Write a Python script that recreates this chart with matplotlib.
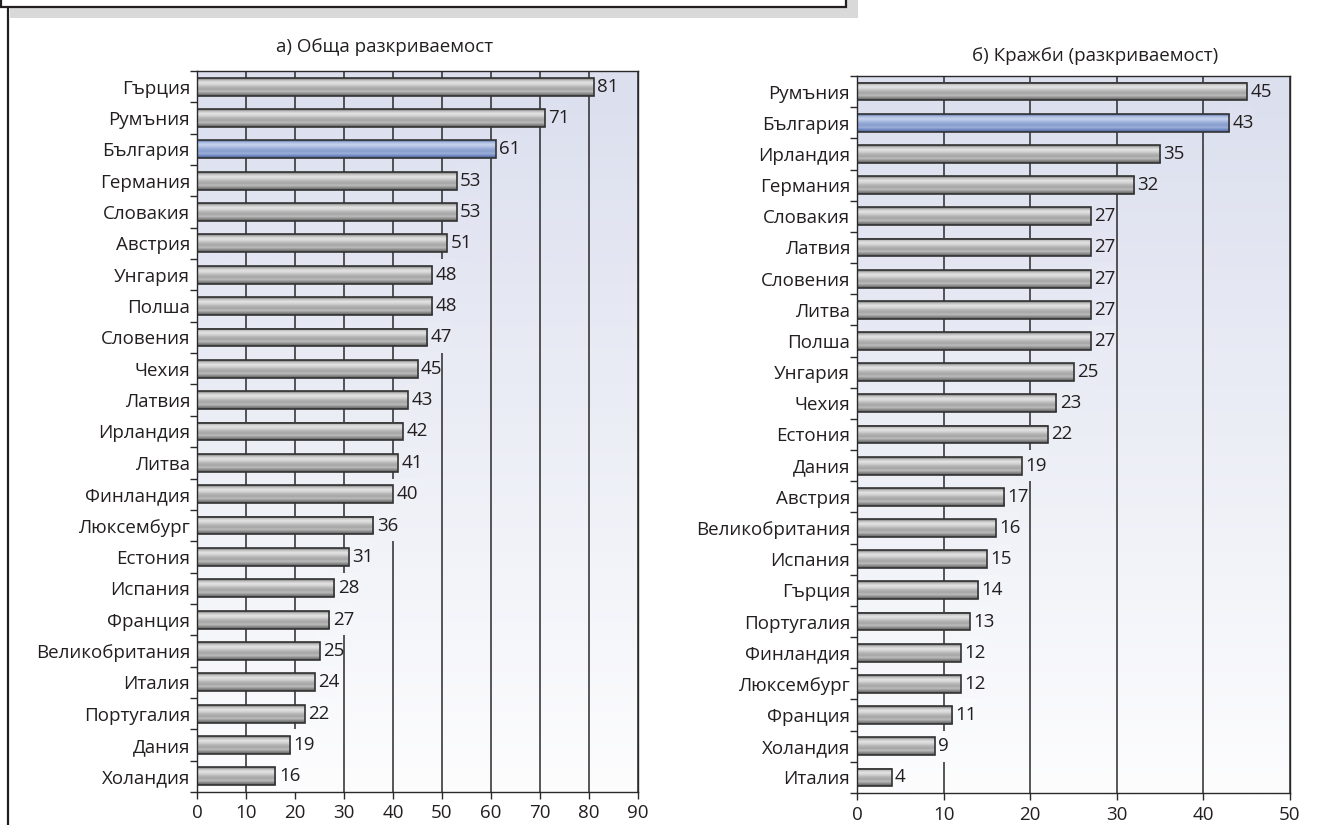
import numpy as np
import matplotlib
matplotlib.use('Agg')
import matplotlib.pyplot as plt
from matplotlib.patches import Rectangle
from matplotlib.colors import to_rgb

plt.rcParams['font.family'] = ['Open Sans', 'DejaVu Sans']

# ---------------- data ----------------
left_title = 'а) Обща разкриваемост'
left_countries = ['Гърция', 'Румъния', 'България', 'Германия', 'Словакия', 'Австрия',
                  'Унгария', 'Полша', 'Словения', 'Чехия', 'Латвия', 'Ирландия', 'Литва',
                  'Финландия', 'Люксембург', 'Естония', 'Испания', 'Франция',
                  'Великобритания', 'Италия', 'Португалия', 'Дания', 'Холандия']
left_values = [81, 71, 61, 53, 53, 51, 48, 48, 47, 45, 43, 42, 41, 40, 36, 31, 28, 27,
               25, 24, 22, 19, 16]
left_ticks = [0, 10, 20, 30, 40, 50, 60, 70, 80, 90]

right_title = 'б) Кражби (разкриваемост)'
right_countries = ['Румъния', 'България', 'Ирландия', 'Германия', 'Словакия', 'Латвия',
                   'Словения', 'Литва', 'Полша', 'Унгария', 'Чехия', 'Естония', 'Дания',
                   'Австрия', 'Великобритания', 'Испания', 'Гърция', 'Португалия',
                   'Финландия', 'Люксембург', 'Франция', 'Холандия', 'Италия']
right_values = [45, 43, 35, 32, 27, 27, 27, 27, 27, 25, 23, 22, 19, 17, 16, 15, 14, 13,
                12, 12, 11, 9, 4]
right_ticks = [0, 10, 20, 30, 40, 50]

highlight = 'България'

# ---------------- style ----------------
W, H = 1318, 825
fig = plt.figure(figsize=(W / 100, H / 100), dpi=100)
fig.patch.set_facecolor('white')

TXT = '#231f20'
LINE = '#2a2a2a'
BG_TOP = np.array(to_rgb('#dbdfee'))
BG_BOT = np.array(to_rgb('#fdfdfe'))

gray_stops = ['#6a6a6a', '#c4c4c4', '#e4e4e4', '#d2d2d2', '#b4b4b4', '#a6a6a6', '#bdbdbd', '#8a8a8a', '#5a5a5a']
blue_stops = ['#4d68a3', '#a9bbe0', '#c8d4ee', '#b1c1e4', '#94a9d5', '#889ecd', '#9cb0da', '#7088bf', '#48609a']


def make_grad(stops, n=64):
    cols = np.array([to_rgb(c) for c in stops])
    xs = np.linspace(0, 1, len(stops))
    t = np.linspace(0, 1, n)
    out = np.stack([np.interp(t, xs, cols[:, k]) for k in range(3)], axis=-1)
    return out[:, None, :]


GRAY_IMG = make_grad(gray_stops)
BLUE_IMG = make_grad(blue_stops)


def bg_at(frac):
    return tuple(BG_TOP + (BG_BOT - BG_TOP) * frac)


label_items = []


def panel(rect, cats, vals, ticks, title, title_xy, fs=13.5):
    ax = fig.add_axes(rect)
    n = len(cats)
    xmax = ticks[-1]
    # background gradient
    g = np.linspace(0, 1, 256)[:, None, None]
    bg = BG_TOP[None, None, :] + (BG_BOT - BG_TOP)[None, None, :] * g
    ax.imshow(bg, extent=(0, 1, 0, 1), transform=ax.transAxes, aspect='auto',
              origin='upper', zorder=0, interpolation='bilinear')
    # grid
    ax.vlines(ticks[1:], -0.5, n - 0.5, color=LINE, lw=1.1, zorder=1)
    h = 0.57
    for i, (c, v) in enumerate(zip(cats, vals)):
        img = BLUE_IMG if c == highlight else GRAY_IMG
        ax.imshow(img, extent=(0, v, i + h / 2, i - h / 2), aspect='auto',
                  origin='upper', zorder=3, interpolation='bilinear')
        ax.barh(i, v, height=h, facecolor='none', edgecolor='#333333', lw=1.2, zorder=4)
        t = ax.annotate(str(v), (v, i), xytext=(2.5, 0), textcoords='offset points',
                        ha='left', va='center', fontsize=fs, color=TXT, zorder=2.5)
        label_items.append((ax, t, i, n))
    ax.set_xlim(0, xmax)
    ax.set_ylim(n - 0.5, -0.5)
    ax.set_xticks(ticks)
    ax.set_xticklabels([str(tk) for tk in ticks], fontsize=fs, color=TXT)
    ax.set_yticks(range(n))
    ax.set_yticklabels(cats, fontsize=fs, color=TXT)
    ax.set_yticks(np.arange(-0.5, n, 1.0), minor=True)
    ax.tick_params(axis='y', which='major', length=0, pad=5)
    ax.tick_params(axis='y', which='minor', length=5, width=1, color=LINE, direction='out')
    ax.tick_params(axis='x', which='major', length=5, width=1, color=LINE, direction='out', pad=4)
    for s in ax.spines.values():
        s.set_color(LINE)
        s.set_linewidth(1.0)
        s.set_zorder(5)
    fig.text(title_xy[0] / W, 1 - title_xy[1] / H, title, ha='center', va='center',
             fontsize=13.5, color=TXT)
    return ax


panel([197 / W, 1 - 792 / H, (638 - 197) / W, (792 - 71) / H],
      left_countries, left_values, left_ticks, left_title, (385, 47))
panel([857 / W, 1 - 793 / H, (1290 - 857) / W, (793 - 76) / H],
      right_countries, right_values, right_ticks, right_title, (1095, 56))

# opaque boxes behind the value labels (they hide the grid lines, as in the original)
fig.canvas.draw()
for ax, t, i, n in label_items:
    bb = t.get_window_extent()
    inv = ax.transData.inverted()
    x0 = inv.transform((bb.x0 - 6, 0))[0]
    x1 = inv.transform((bb.x1 - 1, 0))[0]
    ax.add_patch(Rectangle((x0, i - 0.5), x1 - x0, 1.0, fc=bg_at((i + 0.5) / n),
                           ec='none', zorder=2))

# header frame with shadow and left rule
fig.patches.append(Rectangle((10 / W, 1 - 18 / H), (858 - 10) / W, 18 / H + 0.01,
                             transform=fig.transFigure, fc='#d9d9d9', ec='none', zorder=0))
fig.patches.append(Rectangle((1 / W, 1 - 7 / H), (846 - 1) / W, 7 / H + 0.02,
                             transform=fig.transFigure, fc='white', ec='#231f20', lw=1.6, zorder=1))
fig.lines.append(plt.Line2D([8 / W, 8 / W], [0, 1 - 8 / H], transform=fig.transFigure,
                            color='#231f20', lw=1.6))

fig.savefig('out.png', dpi=100)
